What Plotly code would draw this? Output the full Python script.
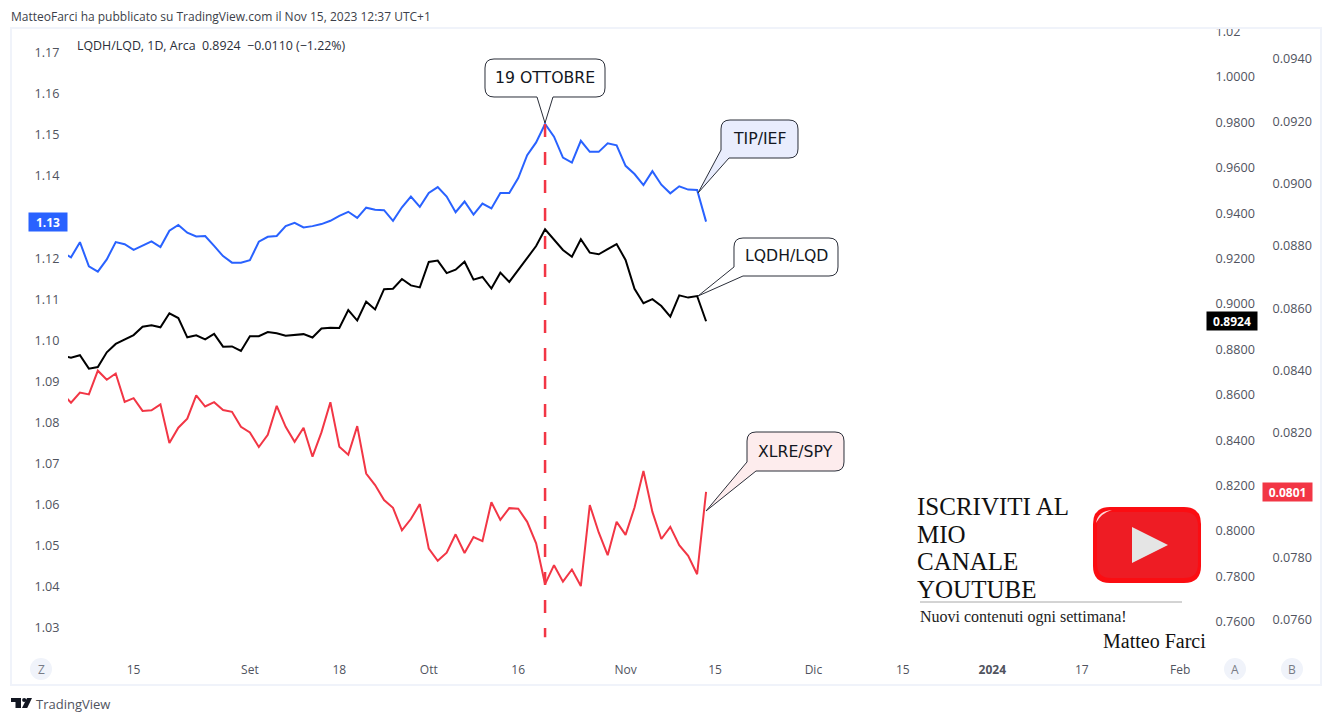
import plotly.graph_objects as go

W, H = 1332, 722
ML, MR, MT, MB = 40, 40, 20, 40

# ---- data -----------------------------------------------------------------
tip_ief = [1.1215, 1.1202, 1.1239, 1.1180, 1.1167, 1.1197, 1.1239, 1.1234, 1.1220, 1.1230,
           1.1241, 1.1227, 1.1267, 1.1281, 1.1262, 1.1253, 1.1254, 1.1230, 1.1205, 1.1189,
           1.1189, 1.1195, 1.1240, 1.1252, 1.1254, 1.1278, 1.1286, 1.1275, 1.1278, 1.1283,
           1.1291, 1.1303, 1.1313, 1.1298, 1.1323, 1.1318, 1.1317, 1.1291, 1.1324, 1.1350,
           1.1325, 1.1359, 1.1373, 1.1350, 1.1312, 1.1338, 1.1306, 1.1333, 1.1321, 1.1359,
           1.1359, 1.1395, 1.1451, 1.1482, 1.1527, 1.1496, 1.1445, 1.1433, 1.1486, 1.1459,
           1.1459, 1.1480, 1.1475, 1.1425, 1.1405, 1.1378, 1.1412, 1.1379, 1.1358, 1.1375,
           1.1367, 1.1366, 1.1289]

lqdh_lqd = [0.8773, 0.8763, 0.8774, 0.8715, 0.8722, 0.8787, 0.8824, 0.8844, 0.8863, 0.8900,
            0.8906, 0.8897, 0.8959, 0.8938, 0.8853, 0.8862, 0.8844, 0.8868, 0.8812, 0.8813,
            0.8793, 0.8858, 0.8858, 0.8876, 0.8871, 0.8860, 0.8865, 0.8867, 0.8852, 0.8892,
            0.8895, 0.8894, 0.8973, 0.8927, 0.9010, 0.8976, 0.9065, 0.9067, 0.9110, 0.9082,
            0.9073, 0.9185, 0.9191, 0.9136, 0.9151, 0.9186, 0.9107, 0.9119, 0.9068, 0.9138,
            0.9097, 0.9150, 0.9206, 0.9255, 0.9329, 0.9285, 0.9238, 0.9208, 0.9285, 0.9226,
            0.9219, 0.9242, 0.9264, 0.9194, 0.9067, 0.9003, 0.9021, 0.8991, 0.8944, 0.9038,
            0.9028, 0.9035, 0.8924]

xlre_spy = [0.08328, 0.08297, 0.08330, 0.08324, 0.08400, 0.08371, 0.08391, 0.08300, 0.08312, 0.08271,
            0.08273, 0.08292, 0.08168, 0.08217, 0.08246, 0.08321, 0.08285, 0.08299, 0.08274, 0.08268,
            0.08220, 0.08202, 0.08155, 0.08194, 0.08287, 0.08220, 0.08172, 0.08217, 0.08124, 0.08202,
            0.08299, 0.08156, 0.08130, 0.08222, 0.08070, 0.08033, 0.07985, 0.07960, 0.07888, 0.07924,
            0.07972, 0.07829, 0.07790, 0.07816, 0.07875, 0.07815, 0.07866, 0.07853, 0.07978, 0.07921,
            0.07959, 0.07957, 0.07915, 0.07846, 0.07715, 0.07776, 0.07723, 0.07762, 0.07709, 0.07969,
            0.07881, 0.07808, 0.07915, 0.07873, 0.07961, 0.08078, 0.07947, 0.07860, 0.07899, 0.07840,
            0.07806, 0.07747, 0.08011]

bars = list(range(len(tip_ief)))
peak_bar = 54                       # 19 ottobre
time_tick_bars = [8, 21, 31, 41, 51, 63, 73, 84, 94, 104, 114, 125]
time_tick_text = ["15", "Set", "18", "Ott", "16", "Nov", "15", "Dic", "15", "<b>2024</b>", "17", "Feb"]
# 1.13 and 0.0800 sit behind the last-price tags in the reference
left_ticks = [1.03, 1.04, 1.05, 1.06, 1.07, 1.08, 1.09, 1.10, 1.11, 1.12, 1.14, 1.15, 1.16, 1.17]
mid_ticks = [0.76, 0.78, 0.80, 0.82, 0.84, 0.86, 0.88, 0.90, 0.92, 0.94, 0.96, 0.98, 1.00]
right_ticks = [0.076, 0.078, 0.082, 0.084, 0.086, 0.088, 0.090, 0.092, 0.094]

BLUE, BLACK, RED = "#2962ff", "#000000", "#f23645"
GREY = "#50535e"
UI = "Open Sans"
SERIF = "Liberation Serif"
CALL = "DejaVu Sans"


def fx(px):
    return (px - ML) / (W - ML - MR)


def fy(py):
    return 1 - (py - MT) / (H - MT - MB)


fig = go.Figure()
fig.add_trace(go.Scatter(x=bars, y=tip_ief, mode="lines", yaxis="y", line=dict(color=BLUE, width=2)))
fig.add_trace(go.Scatter(x=bars, y=lqdh_lqd, mode="lines", yaxis="y2", line=dict(color=BLACK, width=2)))
fig.add_trace(go.Scatter(x=bars, y=xlre_spy, mode="lines", yaxis="y3", line=dict(color=RED, width=2)))
fig.add_trace(go.Scatter(x=[peak_bar, peak_bar], y=[max(tip_ief), 1.0276], mode="lines", yaxis="y",
                         line=dict(color=RED, width=2.5, dash="13px,15px")))

P = lambda x, y: f"{fx(x):.5f},{fy(y):.5f}"


def rounded(x0, y0, x1, y1, r, tail=None):
    """Rounded box in pixel coordinates, with an optional call-out tail."""
    pts = []
    pts.append("M" + P(x0 + r, y0))
    pts.append("L" + P(x1 - r, y0))
    pts.append("Q" + P(x1, y0) + " " + P(x1, y0 + r))
    pts.append("L" + P(x1, y1 - r))
    pts.append("Q" + P(x1, y1) + " " + P(x1 - r, y1))
    if tail and tail[0] == "bottom":
        pts.append("L" + P(tail[3], y1))
        pts.append("L" + P(*tail[2]))
        pts.append("L" + P(tail[1], y1))
    if tail and tail[0] == "corner":
        pts.append("L" + P(tail[3], y1))
        pts.append("L" + P(*tail[2]))
        pts.append("L" + P(x0, tail[1]))
    else:
        pts.append("L" + P(x0 + r, y1))
        pts.append("Q" + P(x0, y1) + " " + P(x0, y1 - r))
    pts.append("L" + P(x0, y0 + r))
    pts.append("Q" + P(x0, y0) + " " + P(x0 + r, y0))
    pts.append("Z")
    return " ".join(pts)


shapes = []


def path(d, fill, line="rgba(0,0,0,0)", lw=1):
    shapes.append(dict(type="path", xref="paper", yref="paper", path=d, fillcolor=fill,
                       line=dict(color=line, width=lw), layer="above"))


def rect(x0, y0, x1, y1, fill="rgba(0,0,0,0)", line="rgba(0,0,0,0)", lw=0):
    shapes.append(dict(type="rect", xref="paper", yref="paper", x0=fx(x0), x1=fx(x1), y0=fy(y0), y1=fy(y1),
                       fillcolor=fill, line=dict(color=line, width=lw), layer="above"))


def circle(cx, cy, r, fill):
    shapes.append(dict(type="circle", xref="paper", yref="paper", x0=fx(cx - r), x1=fx(cx + r),
                       y0=fy(cy + r), y1=fy(cy - r), fillcolor=fill, line=dict(width=0), layer="above"))


# hides the top half of the clipped 1.02 tick label
rect(1208, 18, 1262, 28, fill="white")
# chart frame
rect(11, 28, 1321, 685, line="#f0f3fa", lw=2)

# call-outs
EDGE = "#2a2e39"
path(rounded(485, 59, 605, 97, 9, ("bottom", 537, (545, 123), 553)), "white", EDGE)
path(rounded(721, 120, 798, 158, 9, ("corner", 150, (698, 193), 729)), "#e9edfd", EDGE)
path(rounded(734, 238, 838, 276, 9, ("corner", 267, (698, 296), 743)), "white", EDGE)
path(rounded(747, 432, 844, 471, 9, ("corner", 462, (706, 511), 756)), "#fdeced", EDGE)

# YouTube button
path(rounded(1093, 507, 1201, 583, 17), "#fb0d12")
path(rounded(1097, 512, 1198, 578, 14), "#ee1c24")
path(f"M{P(1132, 527)} L{P(1168, 545)} L{P(1132, 563)} Z", "#e5e5e5")
path(f"M{P(1096, 523)} Q{P(1098, 511)} {P(1112, 510)} Q{P(1101, 513)} {P(1096, 523)} Z", "#ffd9d9")
# divider
shapes.append(dict(type="line", xref="paper", yref="paper", x0=fx(920), x1=fx(1182), y0=fy(602), y1=fy(602),
                   line=dict(color="#a8a8a8", width=1), layer="above"))

# round scale buttons
for cx in (41, 1235, 1292):
    circle(cx, 669, 11, "#f0f3fa")

# TradingView logo
path(f"M{P(11, 698)} L{P(21, 698)} L{P(21, 708)} L{P(15.5, 708)} L{P(15.5, 702)} L{P(11, 702)} Z", "#131722")
circle(24.2, 700, 2.1, "#131722")
path(f"M{P(27, 698)} L{P(32, 698)} L{P(27.2, 708)} L{P(22, 708)} Z", "#131722")

annotations = []


def text(px, py, s, size, color=GREY, font=UI, anchor="left"):
    annotations.append(dict(xref="paper", yref="paper", x=fx(px), y=fy(py), text=s, showarrow=False,
                            xanchor=anchor, yanchor="middle", align=anchor, borderpad=0, borderwidth=0,
                            font=dict(family=font, size=size, color=color)))


def pill(x_right, width, value, yref, s, bg):
    annotations.append(dict(xref="paper", yref=yref, x=fx(x_right), y=value, text=f"<b>{s}</b>", showarrow=False,
                            xanchor="right", yanchor="middle", align="center", valign="middle",
                            width=width, height=18, bgcolor=bg, borderpad=0,
                            font=dict(family=UI, size=12, color="white")))


pill(68, 38, tip_ief[-1], "y", "1.13", BLUE)
pill(1258, 50, lqdh_lqd[-1], "y2", "0.8924", BLACK)
pill(1313, 49, xlre_spy[-1], "y3", "0.0801", RED)

text(11, 16, "MatteoFarci ha pubblicato su TradingView.com il Nov 15, 2023 12:37 UTC+1", 12, "#3c3f4a")
text(77, 45.5, "LQDH/LQD, 1D, Arca&nbsp;&nbsp;0.8924&nbsp;&nbsp;−0.0110 (−1.22%)", 12.4, "#2a2e39")
text(36, 703.5, "TradingView", 13, "#50535e")

text(41, 669, "Z", 12, "#787b86", anchor="center")
text(1235, 669, "A", 12, "#787b86", anchor="center")
text(1292, 669, "B", 12, "#787b86", anchor="center")

text(545, 77, "19 OTTOBRE", 15.7, "#131722", CALL, anchor="center")
text(759.5, 138.5, "TIP/IEF", 15.7, "#131722", CALL, anchor="center")
text(786, 256, "LQDH/LQD", 15.7, "#131722", CALL, anchor="center")
text(795, 451, "XLRE/SPY", 15.7, "#131722", CALL, anchor="center")

text(917, 506, "ISCRIVITI AL", 25, "#111111", SERIF)
text(917, 534, "MIO", 25, "#111111", SERIF)
text(917, 561, "CANALE", 25, "#111111", SERIF)
text(917, 589, "YOUTUBE", 25, "#111111", SERIF)
text(920, 617, "Nuovi contenuti ogni settimana!", 16, "#222222", SERIF)
text(1103, 641, "Matteo Farci", 20, "#111111", SERIF)

axis_font = dict(family=UI, size=12.6, color=GREY)
clear = "rgba(0,0,0,0)"
common = dict(showgrid=False, zeroline=False, showline=False, ticks="outside", tickcolor=clear,
              tickfont=axis_font)

fig.update_layout(
    width=W, height=H, autosize=False,
    margin=dict(l=ML, r=MR, t=MT, b=MB),
    paper_bgcolor="white", plot_bgcolor="white",
    showlegend=False, hovermode=False,
    xaxis=dict(domain=[fx(68), fx(1205)], range=[0.665, 127.78], tickmode="array",
               tickvals=time_tick_bars, ticktext=time_tick_text, showgrid=False, zeroline=False,
               showline=False, ticks="outside", ticklen=9, tickcolor=clear,
               tickfont=dict(family=UI, size=12, color=GREY), anchor="y"),
    yaxis=dict(range=[1.02452, 1.17608], domain=[fy(650), fy(28)], tickmode="array", tickvals=left_ticks,
               ticktext=[f"{v:.2f}" for v in left_ticks], side="left", ticklen=5, **common),
    yaxis2=dict(range=[0.74753, 1.02159], domain=[fy(650), fy(28)], tickmode="array", tickvals=mid_ticks + [1.02],
                ticktext=[f"{v:.4f}" for v in mid_ticks] + ["1.02"], side="right", overlaying="y",
                anchor="free", position=fx(1205), ticklen=7, **common),
    yaxis3=dict(range=[0.075038, 0.094995], domain=[fy(650), fy(28)], tickmode="array", tickvals=right_ticks,
                ticktext=[f"{v:.4f}" for v in right_ticks], side="right", overlaying="y",
                anchor="free", position=fx(1262), ticklen=7, **common),
    shapes=shapes,
    annotations=annotations,
)

fig.write_html("out.html", config=dict(displayModeBar=False),
               post_script="document.body.style.margin='0';document.body.style.overflow='hidden';")
